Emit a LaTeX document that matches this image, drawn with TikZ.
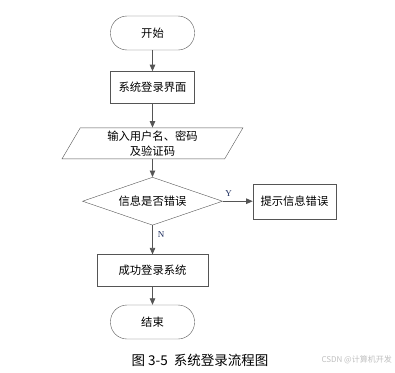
\documentclass[tikz,border=0pt]{standalone}
\usepackage{fontspec}
\setmainfont{Noto Sans CJK SC}
\newfontfamily\latinserif{Liberation Serif}
\usetikzlibrary{arrows.meta,positioning,shapes.geometric}

\definecolor{linegray}{HTML}{555555}
\definecolor{labelblue}{HTML}{1F2F5F}

\begin{document}
\begin{tikzpicture}[
  x=1pt, y=-1pt,
  node distance=20pt and 30pt,
  font=\fontsize{11.3pt}{15pt}\selectfont,
  every node/.style={inner sep=1pt},
  terminal/.style={draw=linegray, rounded corners=16.5pt, align=center, minimum width=84pt, minimum height=34pt},
  procbox/.style={draw=linegray, align=center, minimum width=84pt, minimum height=32pt},
  iobox/.style={draw=linegray, trapezium, trapezium left angle=67, trapezium right angle=113, trapezium stretches=true, align=center, minimum width=181pt, minimum height=31pt},
  decision/.style={draw=linegray, diamond, aspect=2.9, inner sep=0pt, minimum width=140pt, minimum height=48pt},
  branch/.style={font=\latinserif\fontsize{9pt}{10pt}\selectfont, text=labelblue},
  arrow/.style={-{Triangle[length=6.5pt,width=5.5pt]}, draw=linegray, thick}
]
\useasboundingbox (0,0) rectangle (395,372);

\node[terminal] (start) at (152.5,33) {开始};
\node[procbox, below=21pt of start] (loginui) {系统登录界面};
\node[iobox, below=24pt of loginui] (input) {输入用户名、密码\\及验证码};
\node[decision, below=18pt of input] (check) {信息是否错误};
\node[procbox, right=30pt of check, minimum width=83pt, minimum height=35pt] (errmsg) {提示信息错误};
\node[procbox, below=29pt of check, minimum width=111pt] (success) {成功登录系统};
\node[terminal, below=18pt of success] (finish) {结束};

\draw[arrow] (start) -- (loginui);
\draw[arrow] (loginui) -- (input);
\draw[arrow] (input) -- (check);
\draw[arrow] (check) -- node[branch, above=3pt, pos=0.2] {Y} (errmsg);
\draw[arrow] (check) -- node[branch, right=4pt, pos=0.3] {N} (success);
\draw[arrow] (success) -- (finish);

% caption and watermark
\node[font=\fontsize{13.5pt}{15pt}\selectfont] (caption) at (200,360) {图 3-5\ \ 系统登录流程图};
\node[font=\fontsize{8pt}{9pt}\selectfont, text=black!25, anchor=east] (mark) at (393,360) {CSDN @计算机开发};
\end{tikzpicture}
\end{document}
